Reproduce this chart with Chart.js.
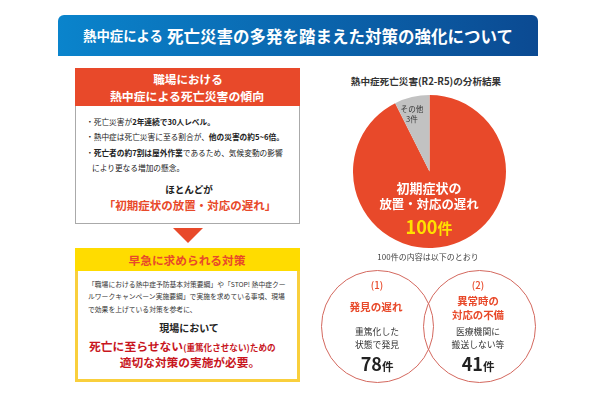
<!DOCTYPE html>
<html lang="ja">
<head>
<meta charset="utf-8">
<title>熱中症による死亡災害</title>
<script src="https://cdn.jsdelivr.net/npm/chart.js@4"></script>
<style>
  html, body { margin: 0; background: #fff; }
  #page { position: relative; width: 600px; height: 400px; overflow: hidden; font-family: "Noto Sans CJK JP", sans-serif; color: #222; }
  .box { position: absolute; box-sizing: border-box; }
  .t { position: absolute; white-space: nowrap; line-height: 1; transform: translateY(-50%); }
  .c { position: absolute; white-space: nowrap; line-height: 1; transform: translate(-50%, -50%); }
  .red { color: #e8492a; }
  .dark { color: #c8161e; }
  .ring { position: absolute; box-sizing: border-box; width: 113px; height: 113px; border: 1px solid #d4695f; border-radius: 50%; }
  b { font-weight: 700; }
  #pieWrap { position: absolute; left: 352.5px; top: 95px; width: 153px; height: 153px; }
</style>
</head>
<body>
<div id="page">
  <div class="box" style="left:58px;top:15px;width:480px;height:41px;border-radius:6px 6px 0 0;background:linear-gradient(90deg,#0a84cc,#0b4a92)"></div>
  <div class="t" style="left:83px;top:36px;color:#fff;font-size:13.4px;font-weight:700">熱中症による</div>
  <div class="t" style="left:167px;top:36px;color:#fff;font-size:16.5px;font-weight:700">死亡災害の多発を踏まえた対策の強化について</div>

  <div class="box" style="left:75px;top:68px;width:225px;height:156px;border:1px solid #aaa;border-top:0"></div>
  <div class="box" style="left:75px;top:68px;width:225px;height:38px;background:#e8492a"></div>
  <div class="c" style="left:188px;top:80px;color:#fff;font-size:11.6px;font-weight:700">職場における</div>
  <div class="c" style="left:187px;top:96px;color:#fff;font-size:11.9px;font-weight:700">熱中症による死亡災害の傾向</div>
  <div class="t" style="left:86px;top:122px;font-size:7.7px">・死亡災害が<b>2年連続で30人レベル。</b></div>
  <div class="t" style="left:86px;top:137px;font-size:7.7px">・熱中症は死亡災害に至る割合が、<b>他の災害の約5~6倍。</b></div>
  <div class="t" style="left:86px;top:153px;font-size:7.7px">・<b>死亡者の約7割は屋外作業</b>であるため、気候変動の影響</div>
  <div class="t" style="left:92px;top:168px;font-size:7.7px">により更なる増加の懸念。</div>
  <div class="c" style="left:189px;top:190px;font-size:9.6px;font-weight:700">ほとんどが</div>
  <div class="c red" style="left:190px;top:206px;font-size:11.5px;font-weight:700">「初期症状の放置・対応の遅れ」</div>

  <div class="box" style="left:173px;top:228px;width:30px;height:15px;background:#e8492a;clip-path:polygon(0 0,100% 0,50% 100%)"></div>

  <div class="box" style="left:75px;top:248px;width:225px;height:134px;border:3px solid #f9cf3c;border-top:0"></div>
  <div class="box" style="left:75px;top:248px;width:225px;height:23px;background:#ffdc00"></div>
  <div class="c red" style="left:187px;top:260px;font-size:11.7px;font-weight:700">早急に求められる対策</div>
  <div class="t" style="left:88px;top:284px;font-size:6.8px;color:#333">「職場における熱中症予防基本対策要綱」や「STOP! 熱中症クー</div>
  <div class="t" style="left:88px;top:296px;font-size:6.8px;color:#333">ルワークキャンペーン実施要綱」で実施を求めている事項、現場</div>
  <div class="t" style="left:88px;top:309px;font-size:6.8px;color:#333">で効果を上げている対策を参考に、</div>
  <div class="c" style="left:189px;top:328px;font-size:10px;font-weight:700">現場において</div>
  <div class="t dark" style="left:89px;top:346px;font-size:11.8px;font-weight:700">死亡に至らせない<span style="font-size:8.6px">(重篤化させない)ための</span></div>
  <div class="c dark" style="left:190px;top:362px;font-size:11.7px;font-weight:700">適切な対策の実施が必要。</div>

  <div class="c" style="left:426px;top:82px;font-size:9.6px;font-weight:700;color:#333">熱中症死亡災害(R2-R5)の分析結果</div>
  <div id="pieWrap"><canvas id="pie"></canvas></div>
  <div class="c" style="left:412px;top:109px;font-size:7.6px;color:#333">その他</div>
  <div class="c" id="otherCount" style="left:412px;top:119px;font-size:7.6px;color:#333"></div>
  <div class="c" style="left:429px;top:187px;font-size:13px;font-weight:700;color:#fff">初期症状の</div>
  <div class="c" style="left:429px;top:204px;font-size:12.4px;font-weight:700;color:#fff">放置・対応の遅れ</div>
  <div class="c" id="mainCount" style="left:429px;top:226px;font-size:15px;font-weight:700;color:#ffe100"></div>
  <div class="c" style="left:428px;top:257px;font-size:8px;color:#444">100件の内容は以下のとおり</div>

  <div class="ring" style="left:321px;top:270px"></div>
  <div class="ring" style="left:423px;top:270px"></div>
  <div class="c red" style="left:377px;top:286px;font-size:9.6px;font-weight:500">(1)</div>
  <div class="c red" style="left:376px;top:307px;font-size:10.6px;font-weight:700">発見の遅れ</div>
  <div class="c" style="left:377px;top:332px;font-size:8.8px;color:#333">重篤化した</div>
  <div class="c" style="left:377px;top:345px;font-size:8.8px;color:#333">状態で発見</div>
  <div class="c" id="count1" style="left:377px;top:363px;font-size:11.5px;font-weight:700"></div>
  <div class="c red" style="left:478px;top:286px;font-size:9.6px;font-weight:500">(2)</div>
  <div class="c red" style="left:478px;top:301px;font-size:10.4px;font-weight:700">異常時の</div>
  <div class="c red" style="left:478px;top:315px;font-size:10.4px;font-weight:700">対応の不備</div>
  <div class="c" style="left:478px;top:332px;font-size:8.8px;color:#333">医療機関に</div>
  <div class="c" style="left:478px;top:345px;font-size:8.8px;color:#333">搬送しない等</div>
  <div class="c" id="count2" style="left:478px;top:363px;font-size:11.5px;font-weight:700"></div>
</div>
<script>
// printed counts
const pieLabels = ['初期症状の放置・対応の遅れ', 'その他'];
const pieCounts = [100, 3];
const causeCounts = [78, 41];
// the grey slice is not drawn to scale in the picture, these are the sizes as read off it
const sliceSizes = [100, 8];

function numberWithUnit(id, value, size) {
  document.getElementById(id).innerHTML = `<span style="font-size:${size}px">${value}</span>件`;
}

numberWithUnit('mainCount', pieCounts[0], 18);
document.getElementById('otherCount').textContent = `${pieCounts[1]}件`;
numberWithUnit('count1', causeCounts[0], 18);
numberWithUnit('count2', causeCounts[1], 18);

new Chart(document.getElementById('pie'), {
  type: 'pie',
  data: {
    labels: pieLabels,
    datasets: [
      {
        data: sliceSizes,
        backgroundColor: ['#e8492a', '#c2c2c2'],
        borderWidth: 0
      }
    ]
  },
  options: {
    responsive: true,
    maintainAspectRatio: false,
    animation: false,
    plugins: {
      legend: { display: false },
      tooltip: { enabled: false }
    }
  }
});
</script>
</body>
</html>
